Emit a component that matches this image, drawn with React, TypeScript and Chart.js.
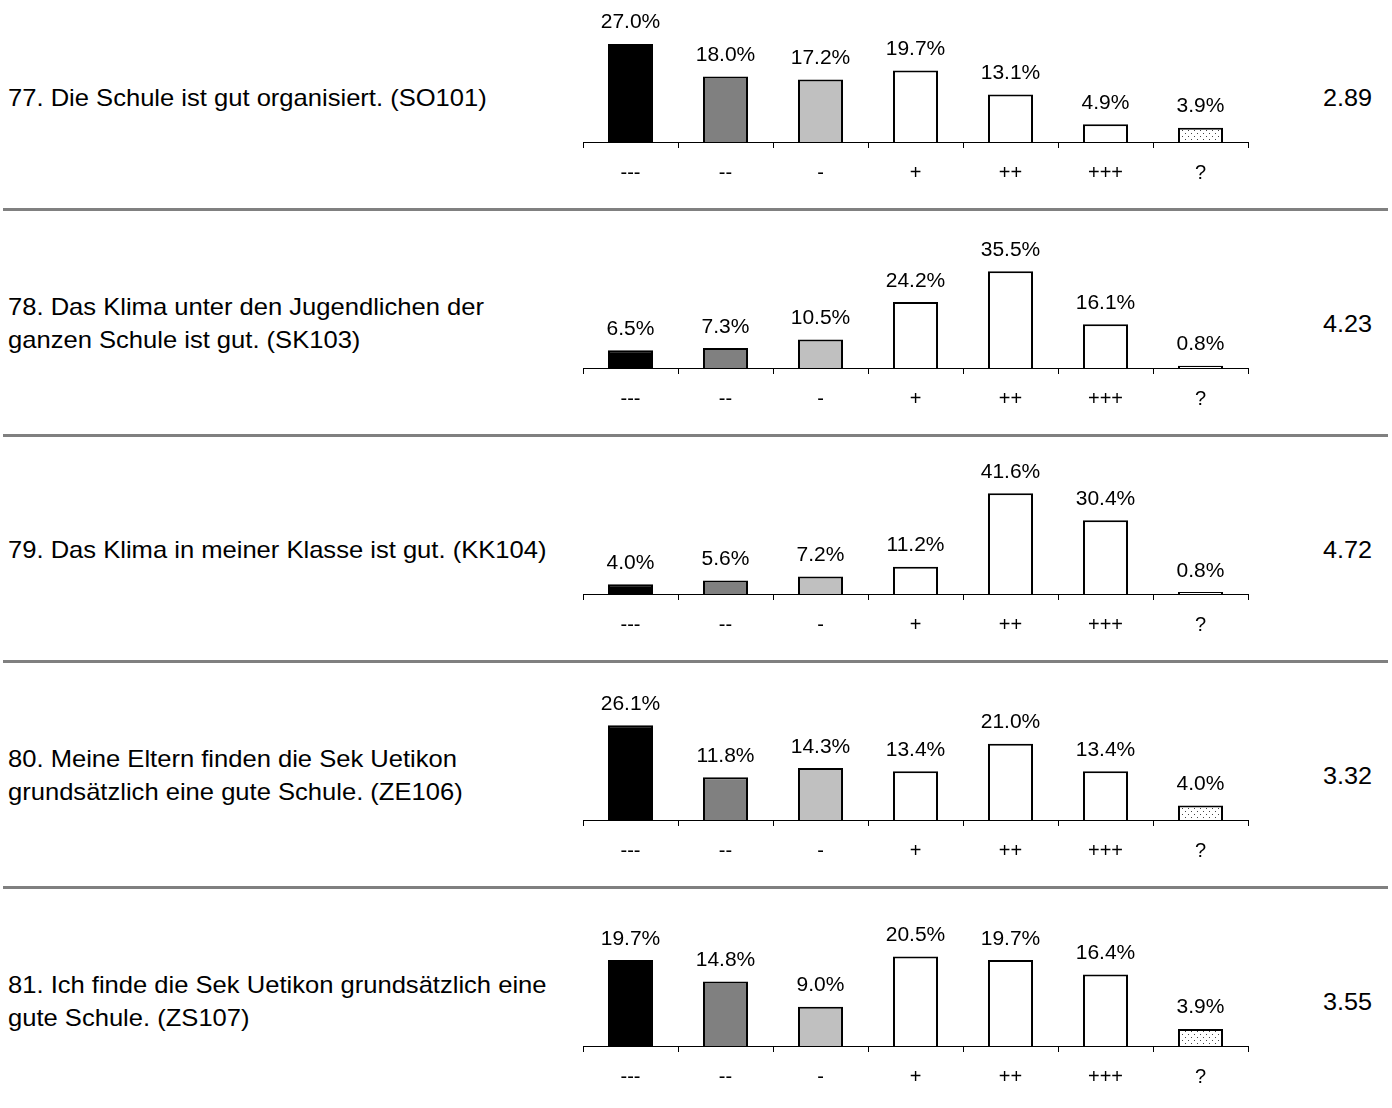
import React, { useEffect, useRef } from 'react';
import { Chart, registerables } from 'chart.js';

Chart.register(...registerables);

// ---- data ----
const categories = ['---', '--', '-', '+', '++', '+++', '?'];

const questions: string[][] = [
  ['77. Die Schule ist gut organisiert. (SO101)'],
  ['78. Das Klima unter den Jugendlichen der', 'ganzen Schule ist gut. (SK103)'],
  ['79. Das Klima in meiner Klasse ist gut. (KK104)'],
  ['80. Meine Eltern finden die Sek Uetikon', 'grundsätzlich eine gute Schule. (ZE106)'],
  ['81. Ich finde die Sek Uetikon grundsätzlich eine', 'gute Schule. (ZS107)'],
];

const q77 = [27.0, 18.0, 17.2, 19.7, 13.1, 4.9, 3.9];
const q78 = [6.5, 7.3, 10.5, 24.2, 35.5, 16.1, 0.8];
const q79 = [4.0, 5.6, 7.2, 11.2, 41.6, 30.4, 0.8];
const q80 = [26.1, 11.8, 14.3, 13.4, 21.0, 13.4, 4.0];
const q81 = [19.7, 14.8, 9.0, 20.5, 19.7, 16.4, 3.9];
const seriesValues = [q77, q78, q79, q80, q81];

const means = ['2.89', '4.23', '4.72', '3.32', '3.55'];
const axisMax = [30, 40, 45, 30, 25];

// ---- layout / style ----
const FONT = '"Liberation Sans", Arial, Helvetica, sans-serif';
const ROW_H = 226;
const AXIS_Y0 = 142;
const PLOT_H = 109;
const CANVAS_LEFT = 560;
const CANVAS_W = 720;
const CANVAS_H = 200;
const TEXT_CENTER0 = 97;

function makeDotPattern(): CanvasPattern | string {
  const c = document.createElement('canvas');
  c.width = 6;
  c.height = 6;
  const g = c.getContext('2d');
  if (!g) return '#ffffff';
  g.fillStyle = '#ffffff';
  g.fillRect(0, 0, 6, 6);
  g.fillStyle = '#444444';
  g.fillRect(1, 1, 1, 1);
  g.fillRect(4, 4, 1, 1);
  return g.createPattern(c, 'repeat') || '#ffffff';
}

const valueLabelPlugin = {
  id: 'valueLabels',
  afterDatasetsDraw(chart: any) {
    const ctx = chart.ctx as CanvasRenderingContext2D;
    const meta = chart.getDatasetMeta(0);
    const data = chart.data.datasets[0].data as number[];
    ctx.save();
    ctx.font = `20px ${FONT}`;
    ctx.fillStyle = '#000000';
    ctx.textAlign = 'center';
    ctx.textBaseline = 'alphabetic';
    meta.data.forEach((bar: any, i: number) => {
      ctx.save();
      ctx.translate(bar.x, bar.y - 15.5);
      ctx.scale(1.05, 1);
      ctx.fillText(data[i].toFixed(1) + '%', 0, 0);
      ctx.restore();
    });
    ctx.restore();
  },
};

function RowChart({ index }: { index: number }) {
  const ref = useRef<HTMLCanvasElement | null>(null);
  useEffect(() => {
    if (!ref.current) return;
    const pattern = makeDotPattern();
    const colors: any[] = ['#000000', '#808080', '#c0c0c0', '#ffffff', '#ffffff', '#ffffff', pattern];
    const chart = new Chart(ref.current, {
      type: 'bar',
      data: {
        labels: categories,
        datasets: [
          {
            data: seriesValues[index],
            backgroundColor: colors,
            borderColor: '#000000',
            borderWidth: 2,
            barPercentage: 0.474,
            categoryPercentage: 1,
          },
        ],
      },
      options: {
        animation: false,
        responsive: false,
        maintainAspectRatio: false,
        devicePixelRatio: 1,
        layout: { padding: { top: AXIS_Y0 - PLOT_H, left: 23, right: 32, bottom: 0 } },
        plugins: { legend: { display: false }, tooltip: { enabled: false } },
        scales: {
          x: {
            offset: true,
            grid: {
              display: true,
              drawOnChartArea: false,
              drawTicks: true,
              tickLength: 6,
              color: '#000000',
              lineWidth: 1,
              offset: true,
            },
            border: { display: true, color: '#000000', width: 1 },
            ticks: {
              color: '#000000',
              font: { family: FONT, size: 20 },
              padding: 13,
              maxRotation: 0,
              autoSkip: false,
            },
            afterFit: (s: any) => {
              s.height = CANVAS_H - AXIS_Y0;
            },
          },
          y: { display: false, min: 0, max: axisMax[index] },
        },
      },
      plugins: [valueLabelPlugin],
    } as any);
    return () => chart.destroy();
  }, [index]);
  return (
    <canvas
      ref={ref}
      width={CANVAS_W}
      height={CANVAS_H}
      style={{ position: 'absolute', left: CANVAS_LEFT, top: index * ROW_H, width: CANVAS_W, height: CANVAS_H }}
    />
  );
}

export default function App() {
  return (
    <div style={{ position: 'absolute', left: 0, top: 0, width: 1392, height: 1108, overflow: 'hidden', background: '#ffffff', fontFamily: FONT, color: '#000' }}>
      {questions.map((lines, i) => {
        const center = TEXT_CENTER0 + i * ROW_H;
        const top = center - (lines.length * 33) / 2 + 0.3;
        return (
          <div
            key={'q' + i}
            style={{
              position: 'absolute',
              left: 8,
              top,
              fontSize: 24,
              lineHeight: '33px',
              whiteSpace: 'nowrap',
              transform: 'scaleX(1.065)',
              transformOrigin: 'left center',
            }}
          >
            {lines.map((l, j) => (
              <div key={j}>{l}</div>
            ))}
          </div>
        );
      })}
      {means.map((m, i) => (
        <div
          key={'m' + i}
          style={{
            position: 'absolute',
            left: 1323,
            top: TEXT_CENTER0 + i * ROW_H - 16.5 + 0.3,
            fontSize: 24,
            lineHeight: '33px',
            whiteSpace: 'nowrap',
            transform: 'scaleX(1.05)',
            transformOrigin: 'left center',
          }}
        >
          {m}
        </div>
      ))}
      {[0, 1, 2, 3].map((i) => (
        <div
          key={'s' + i}
          style={{ position: 'absolute', left: 3, width: 1385, top: 208 + i * ROW_H, height: 3, background: '#808080' }}
        />
      ))}
      {seriesValues.map((_, i) => (
        <RowChart key={'c' + i} index={i} />
      ))}
    </div>
  );
}
